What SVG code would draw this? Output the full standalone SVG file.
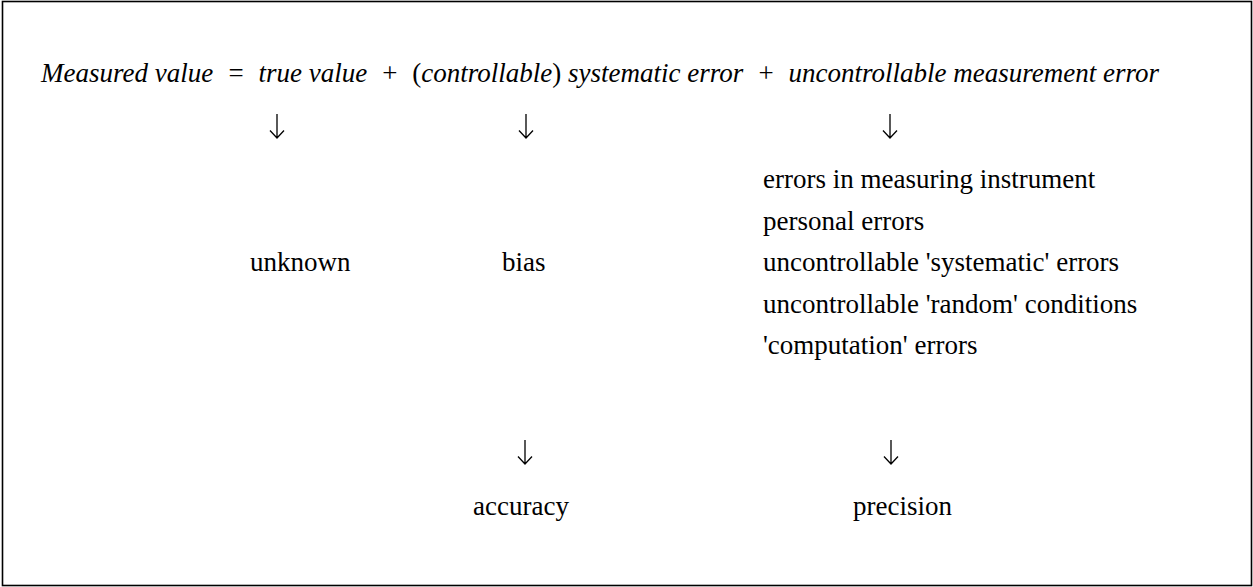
<svg xmlns="http://www.w3.org/2000/svg" width="1253" height="587" viewBox="0 0 1253 587">
<style>
text{font-family:"Liberation Serif","Times New Roman",serif;font-size:27px;fill:#000}
.i{font-style:italic}
.n{font-style:normal}
.arrow{fill:none;stroke:#000;stroke-width:1.3}
</style>
<defs>
<path id="dn" class="arrow" d="M0,0 V24 M-7,16.5 L0,24 L7,16.5"/>
</defs>
<rect x="2.5" y="1.5" width="1249" height="584" fill="#fff" stroke="#000" stroke-width="1.6"/>
<g id="equation">
<text x="41" y="82" class="i" xml:space="preserve">Measured value  =  true value  +  <tspan class="n">(</tspan>controllable<tspan class="n">)</tspan> systematic error  +  uncontrollable measurement error</text>
</g>
<g id="connectors">
<use href="#dn" x="277" y="114"/>
<use href="#dn" x="526" y="114"/>
<use href="#dn" x="890" y="114"/>
<use href="#dn" x="525" y="440"/>
<use href="#dn" x="891" y="440"/>
</g>
<g id="unknown"><text x="250" y="271">unknown</text></g>
<g id="bias"><text x="502" y="271">bias</text></g>
<g id="errors">
<text x="763" y="188">errors in measuring instrument</text>
<text x="763" y="229.5">personal errors</text>
<text x="763" y="271">uncontrollable 'systematic' errors</text>
<text x="763" y="312.5">uncontrollable 'random' conditions</text>
<text x="763" y="354">'computation' errors</text>
</g>
<g id="accuracy"><text x="473" y="515">accuracy</text></g>
<g id="precision"><text x="853" y="515">precision</text></g>
</svg>
